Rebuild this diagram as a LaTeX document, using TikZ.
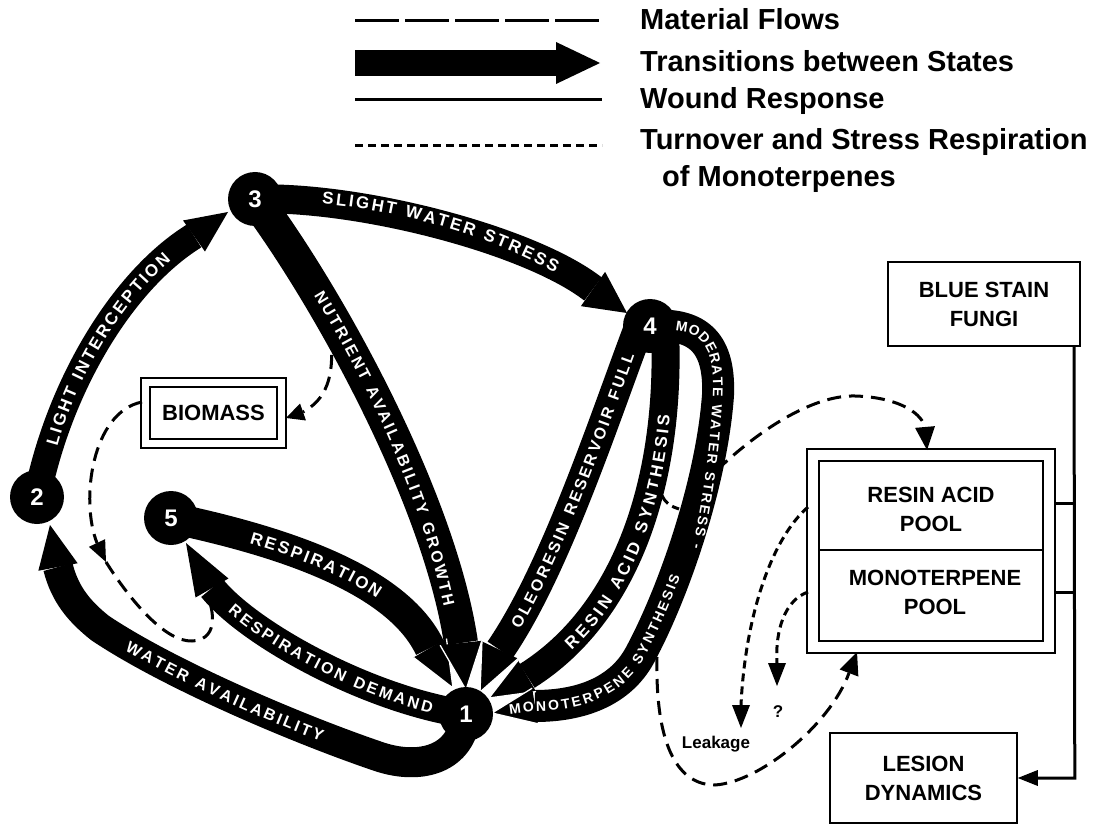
\documentclass[tikz,border=0pt]{standalone}
\usepackage{fontspec}
\setmainfont{Liberation Sans}
\usetikzlibrary{calc,decorations.text}
\newcommand\ahead[3]{\fill ($(#1)!#3!90:(#2)$) -- (#2) -- ($(#1)!#3!-90:(#2)$) -- cycle;}
\newcommand\aheadw[3]{\fill ($(#1)!#3!90:(#2)$) -- (#2) -- ($(#1)!#3!-90:(#2)$) -- cycle;
  \draw[white, line width=1.3pt] ($(#1)!#3!90:(#2)$) -- (#2) -- ($(#1)!#3!-90:(#2)$);}
\tikzset{
  state/.style={circle, fill=black, minimum size=54pt, inner sep=0pt, text=white, font=\fontsize{24}{24}\selectfont\bfseries},
  band/.style={draw=black, line width=#1, line join=round},
  flow/.style={line width=3pt, dash pattern=on 14pt off 8pt},
  turn/.style={line width=3pt, dash pattern=on 8pt off 5pt},
  wound/.style={line width=3pt},
  box/.style={draw, line width=1.6pt, inner sep=0pt},
  lbl/.style={font=\fontsize{22}{29}\selectfont\bfseries, align=center, inner sep=0pt},
  legend/.style={anchor=west, font=\fontsize{29}{31}\selectfont\bfseries, inner sep=0pt},
  bt/.style n args={5}{decorate, decoration={text along path, text={|\bfseries\fontsize{#1}{#1}\selectfont\kern#4|#5}, text color=white, raise=#2, text align={#3}}}
}
\begin{document}
\begin{tikzpicture}[x=1pt,y=1pt]
\useasboundingbox (0,0) rectangle (1095,-826);
% ---------------- legend
\draw[line width=3pt, dash pattern=on 44pt off 6pt] (355,-21) -- (604,-21);
\fill (355,-50) rectangle (556,-76);
\fill (556,-42) -- (600,-63) -- (556,-84) -- cycle;
\draw[wound] (355,-100) -- (602,-100);
\draw[turn] (355,-146) -- (602,-146);
\node[legend] (lg1) at (640,-19) {Material Flows};
\node[legend] (lg2) at (640,-61) {Transitions between States};
\node[legend] (lg3) at (640,-101) {Wound Response};
\node[legend] (lg4) at (640,-142) {Turnover and Stress Respiration};
\node[legend] (lg5) at (662,-179) {of Monoterpenes};
% ---------------- state coordinates
\coordinate (c1) at (466,-714);
\coordinate (c2) at (37,-497);
\coordinate (c3) at (255,-199);
\coordinate (c4) at (650,-326);
\coordinate (c5) at (171,-518);
\coordinate (hA) at (194,-236); \coordinate (tA) at (228,-212);
\coordinate (hB) at (593,-289); \coordinate (tB) at (627,-313);
\coordinate (hC) at (461,-643); \coordinate (tC) at (466,-690);
\coordinate (hD) at (500,-650); \coordinate (tD) at (480,-692);
\coordinate (hE) at (527,-676); \coordinate (tE) at (489,-698);
\coordinate (hF) at (535,-706); \coordinate (tF) at (492,-713);
\coordinate (hG) at (430,-648); \coordinate (tG) at (453,-688);
\coordinate (hH) at (212,-588); \coordinate (tH) at (186,-543);
\coordinate (hI) at (58,-567);  \coordinate (tI) at (50,-525);
% ---------------- transition bands
\draw[band=27pt] (c2) .. controls (58,-390) and (120,-282) .. (hA);
\draw[band=29pt] (c3) .. controls (360,-196) and (530,-240) .. (hB);
\draw[band=34pt] (c3) .. controls (330,-300) and (440,-500) .. (hC);
\draw[band=30pt] (638,-330) .. controls (604,-420) and (555,-570) .. (hD);
\draw[band=28pt] (665,-330) .. controls (671,-470) and (632,-610) .. (hE);
\draw[band=32pt] (c4) .. controls (700,-322) and (720,-345) .. (718,-395) .. controls (712,-480) and (675,-590) .. (640,-655) .. controls (620,-692) and (580,-706) .. (hF);
\draw[band=31pt] (c5) .. controls (300,-545) and (400,-585) .. (hG);
\draw[band=28pt] (c1) .. controls (370,-700) and (250,-635) .. (hH);
\draw[band=30pt] (c1) .. controls (462,-760) and (420,-770) .. (380,-757) .. controls (300,-730) and (170,-675) .. (100,-628) .. controls (80,-612) and (65,-595) .. (hI);
\ahead{hA}{tA}{19pt}
\ahead{hB}{tB}{21pt}
\ahead{hH}{tH}{19pt}
\ahead{hI}{tI}{20pt}
\aheadw{hG}{tG}{19pt}
\aheadw{hC}{tC}{21pt}
\aheadw{hD}{tD}{20pt}
\aheadw{hE}{tE}{18pt}
\aheadw{hF}{tF}{18pt}
% ---------------- states
\node[state] (n1) at (c1) {1};
\node[state] (n2) at (c2) {2};
\node[state] (n3) at (c3) {3};
\node[state] (n4) at (c4) {4};
\node[state] (n5) at (c5) {5};
% ---------------- band labels
\path[bt={17}{-6pt}{center}{2.5pt}{LIGHT INTERCEPTION}] (44,-480) .. controls (58,-390) and (120,-282) .. (194,-236);
\path[bt={17}{-6pt}{center}{2.5pt}{SLIGHT WATER STRESS}] (282,-196) .. controls (370,-196) and (500,-225) .. (590,-288);
\path[bt={16}{-5.7pt}{center}{2.5pt}{NUTRIENT AVAILABILITY GROWTH}] (296,-256) .. controls (350,-340) and (430,-480) .. (457,-645);
\path[bt={16}{-5.7pt}{center}{2.5pt}{OLEORESIN RESERVOIR FULL}] (500,-650) .. controls (555,-570) and (604,-420) .. (638,-330);
\path[bt={17}{-6pt}{left indent=32pt}{3pt}{RESIN ACID SYNTHESIS}] (540,-668) .. controls (625,-612) and (670,-490) .. (665,-355);
\path[bt={14}{-5pt}{left indent=14pt}{2pt}{MODERATE WATER STRESS -}] (660,-326) .. controls (705,-322) and (720,-345) .. (718,-395) .. controls (714,-470) and (702,-540) .. (682,-610);
\path[bt={14}{-5pt}{left indent=2pt}{2.2pt}{MONOTERPENE SYNTHESIS}] (505,-710) -- (535,-706) .. controls (580,-706) and (620,-692) .. (640,-655) .. controls (675,-590) and (712,-480) .. (718,-395);
\path[bt={17}{-6pt}{left indent=80pt}{2.5pt}{RESPIRATION}] (c5) .. controls (300,-545) and (400,-585) .. (hG);
\path[bt={16}{-5.7pt}{left indent=25pt}{2.5pt}{RESPIRATION DEMAND}] (hH) .. controls (250,-635) and (370,-700) .. (c1);
\path[bt={16}{-5.7pt}{left indent=30pt}{2.5pt}{WATER AVAILABILITY}] (100,-628) .. controls (170,-675) and (300,-730) .. (380,-757);
% ---------------- boxes
\node[box, lbl, minimum width=127pt, minimum height=52pt] (bio) at (213.5,-413) {BIOMASS};
\draw[line width=1.6pt] ($(bio.south west)+(-8,-8)$) rectangle ($(bio.north east)+(8,8)$);
\node[box, minimum width=224pt, minimum height=180pt] (pool) at (931,-551) {};
\draw[line width=1.6pt] ($(pool.south west)+(-11,-11)$) rectangle ($(pool.north east)+(11,11)$);
\draw[line width=1.6pt] (819,-550) -- (1043,-550);
\node[lbl] (rap) at (931,-509) {RESIN ACID\\POOL};
\node[lbl] (mtp) at (935,-592) {MONOTERPENE\\POOL};
\node[box, lbl, minimum width=192pt, minimum height=84pt] (bsf) at (984,-304) {BLUE STAIN\\FUNGI};
\node[box, lbl, minimum width=187pt, minimum height=90pt] (les) at (923.5,-778) {LESION\\DYNAMICS};
% ---------------- wound response
\coordinate (wtop) at ($(bsf.south)+(90,0)$);
\coordinate (wbot) at ($(les.east)+(57,0)$);
\coordinate (wh) at ($(les.east)+(20,0)$);
\draw[wound] (wtop) -- (wbot) -- (wh);
\ahead{wh}{les.east}{8pt}
\draw[wound] (1054,-503) -- (1074,-503);
\draw[wound] (1054,-592) -- (1074,-592);
% ---------------- material flows
\coordinate (bioE) at (286,-418);
\draw[flow] (330,-333) .. controls (336,-378) and (325,-400) .. (303,-412);
\ahead{303,-412}{bioE}{9pt}
\coordinate (m1) at (106,-562);
\draw[flow] (142,-402) .. controls (92,-412) and (80,-500) .. (97,-543);
\ahead{97,-543}{m1}{9pt}
\draw[flow] (m1) .. controls (130,-600) and (165,-642) .. (192,-641) .. controls (214,-640) and (215,-620) .. (210,-603);
\coordinate (poolN) at (927,-450);
\draw[flow] (717,-470) .. controls (770,-420) and (820,-395) .. (855,-396) .. controls (893,-397) and (920,-410) .. (925,-427);
\ahead{925,-427}{poolN}{10pt}
\draw[line width=3pt, dash pattern=on 10pt off 5pt] (659,-481) .. controls (660,-498) and (666,-505) .. (679,-509);
\coordinate (poolS) at (857,-652);
\draw[flow] (657,-657) .. controls (655,-750) and (680,-785) .. (715,-785) .. controls (760,-782) and (830,-725) .. (849,-673);
\ahead{849,-673}{poolS}{10pt}
% ---------------- turnover
\coordinate (leakA) at (741,-728);
\coordinate (qA) at (777,-686);
\draw[turn] (808,-507) .. controls (770,-540) and (745,-620) .. (741,-705);
\ahead{741,-705}{leakA}{9pt}
\draw[turn] (808,-592) .. controls (785,-600) and (775,-630) .. (777,-663);
\ahead{777,-663}{qA}{9pt}
\node[font=\fontsize{17}{17}\selectfont\bfseries] (leak) at (716,-744) {Leakage};
\node[font=\fontsize{17}{17}\selectfont\bfseries] (q) at (778,-712) {?};
\end{tikzpicture}
\end{document}
